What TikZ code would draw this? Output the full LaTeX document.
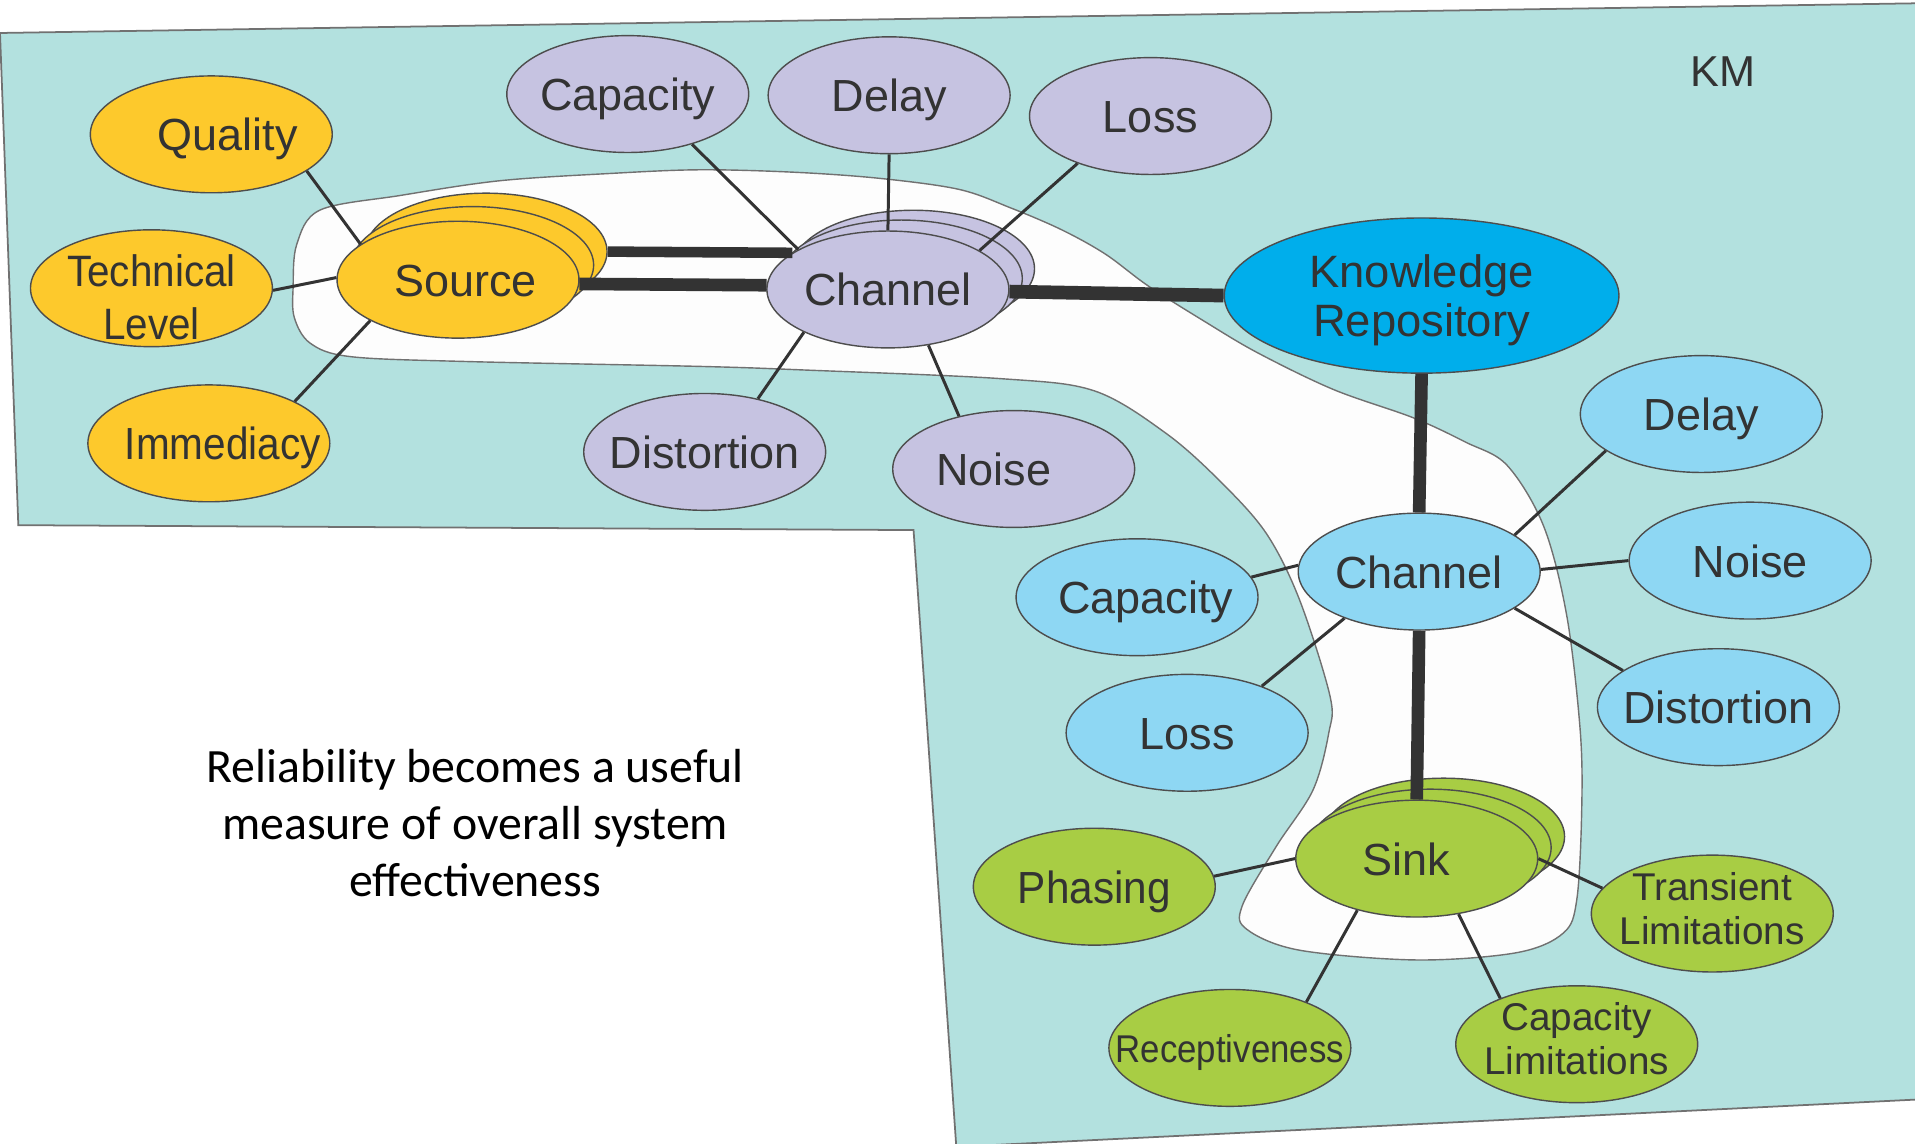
\documentclass[tikz,border=0pt]{standalone}
\usepackage{fontspec}
\usepackage{graphicx}
\setmainfont{Liberation Sans}
\newfontfamily\notefont{Carlito}
\usetikzlibrary{shapes.geometric}

\definecolor{kmteal}{HTML}{B3E1DF}
\definecolor{zonewhite}{HTML}{FDFDFD}
\definecolor{srcyellow}{HTML}{FDC92C}
\definecolor{chpurple}{HTML}{C6C3E1}
\definecolor{krblue}{HTML}{00AEEB}
\definecolor{skyblue}{HTML}{8ED7F3}
\definecolor{sinkgreen}{HTML}{A8CD44}
\definecolor{ink}{HTML}{333333}
\definecolor{rim}{HTML}{4D4D4D}

% one-line label whose vertical placement ignores descenders
\newcommand\lbl[1]{\rule{0pt}{0.73em}\smash{#1}}

\tikzset{
  bub/.style={ellipse, draw=rim, line width=0.4pt, inner xsep=-0.6cm, inner ysep=-0.25cm,
    minimum width=2.418cm, minimum height=1.168cm, text=ink, align=center,
    font=\fontsize{12.8}{14.5}\selectfont},
  small bub/.style={bub, font=\fontsize{11}{12.6}\selectfont},
  link/.style={draw=ink, line width=0.85pt},
  heavy/.style={draw=ink, line width=3.6pt}
}

\begin{document}
\begin{tikzpicture}[x=0.012213cm, y=-0.012213cm]
\useasboundingbox (0,0) rectangle (1568,936);
\clip (0,0) rectangle (1568,936);
\fill[white] (0,0) rectangle (1568,936);

% KM area
\filldraw[fill=kmteal, draw=rim!80, line width=0.5pt]
  (0,27) -- (1575,2.6) -- (1575,900) -- (783,939) -- (748,434) -- (15,430) -- cycle;

% source-channel-sink band
\filldraw[fill=zonewhite, draw=rim!80, line width=0.4pt]
  plot[smooth cycle, tension=0.55] coordinates {
    (240,235) (243,200) (262,172) (328,160) (409,148) (500,142) (573,139)
    (650,141) (720,146) (785,155) (827,170) (869,188) (905,208) (940,234)
    (986,263) (1030,289) (1092,319) (1157,342) (1200,362) (1234,381)
    (1264,431) (1283,505) (1294,600) (1295,667) (1291,737) (1280,764)
    (1242,780) (1160,786) (1064,778) (1021,761) (1017,742) (1045,693)
    (1075,647) (1088,600) (1089,570) (1064,491) (1037,437) (1000,395)
    (955,355) (896,320) (819,310) (660,303) (573,300) (382,296) (287,292)
    (254,281) (241,260)};

% source group
\node[bub, fill=srcyellow] (qual) at (173,110) {\lbl{\hspace*{0.33cm}Quality}};
\node[bub, fill=srcyellow, font=\fontsize{12.5}{15.3}\selectfont] (tech) at (124,236)
  {\rule{0pt}{0.5cm}\scalebox{0.92}[1]{Technical}\\\scalebox{0.92}[1]{Level}};
\node[bub, fill=srcyellow] (imm) at (171,363) {\lbl{\hspace*{0.28cm}\scalebox{0.9}[1]{Immediacy}}};
\node[bub, fill=srcyellow] (src3) at (398,206) {};
\node[bub, fill=srcyellow] (src2) at (387,217) {};
\node[bub, fill=srcyellow] (src) at (375,229) {\lbl{\hspace*{0.15cm}Source}};

% channel group (first leg)
\node[bub, fill=chpurple] (capP) at (514,77) {\lbl{Capacity}};
\node[bub, fill=chpurple] (dlyP) at (728,78) {\lbl{Delay}};
\node[bub, fill=chpurple] (lossP) at (942,95) {\lbl{Loss}};
\node[bub, fill=chpurple] (chP3) at (748,220) {};
\node[bub, fill=chpurple] (chP2) at (738,228) {};
\node[bub, fill=chpurple] (chP) at (727,237) {\lbl{Channel}};
\node[bub, fill=chpurple] (distP) at (577,370) {\lbl{Distortion}};
\node[bub, fill=chpurple] (noiseP) at (830,384) {\lbl{Noise\hspace*{0.4cm}}};

% repository
\node[bub, fill=krblue, minimum width=3.945cm, minimum height=1.551cm,
  font=\fontsize{12.9}{14.1}\selectfont] (kr) at (1164,242)
  {\rule{0pt}{0.42cm}Knowledge\\Repository};

% channel group (second leg)
\node[bub, fill=skyblue] (dlyB) at (1393,339) {\lbl{Delay}};
\node[bub, fill=skyblue] (chB) at (1162,468) {\lbl{Channel}};
\node[bub, fill=skyblue] (noiseB) at (1433,459) {\lbl{Noise}};
\node[bub, fill=skyblue] (capB) at (931,489) {\lbl{\hspace*{0.17cm}Capacity}};
\node[bub, fill=skyblue] (distB) at (1407,579) {\lbl{Distortion}};
\node[bub, fill=skyblue] (lossB) at (972,600) {\lbl{Loss}};

% sink group
\node[bub, fill=sinkgreen] (sink3) at (1182,685) {};
\node[bub, fill=sinkgreen] (sink2) at (1171,694) {};
\node[bub, fill=sinkgreen] (sink) at (1160,703) {\lbl{Sink\hspace*{0.21cm}}};
\node[bub, fill=sinkgreen] (phas) at (896,726) {\lbl{\scalebox{0.94}[1]{Phasing}}};
\node[small bub, fill=sinkgreen, font=\fontsize{11}{12.5}\selectfont] (trans) at (1402,748)
  {Transient\\Limitations\rule[-0.1cm]{0pt}{0pt}};
\node[small bub, fill=sinkgreen] (recep) at (1007,858) {\lbl{\scalebox{0.9}[1]{Receptiveness}}};
\node[small bub, fill=sinkgreen] (caplim) at (1291,855)
  {Capacity\\Limitations\rule[-0.11cm]{0pt}{0pt}};

% labels
\node[text=ink, font=\fontsize{12.3}{14}\selectfont] (km) at (1411,59) {KM};
\node[text=black, align=center, font=\notefont\fontsize{13.6}{16.3}\selectfont] (note)
  at (389,674) {Reliability becomes a useful\\measure of overall system\\effectiveness};

% connectors
\draw[link] (qual.-21) -- (src.160);
\draw[link] (tech.-1) -- (src.179);
\draw[link] (imm.26) -- (src.-155);
\draw[link] (capP.-38) -- (chP.156);
\draw[link] (dlyP.-90) -- (chP.90);
\draw[link] (lossP.-147) -- (chP.23);
\draw[link] (distP.45) -- (chP.-153);
\draw[link] (noiseP.136) -- (chP.-54);
\draw[heavy, line width=3pt] (src3.0) -- (chP.159);
\draw[heavy] (src.-2) -- (chP.178);
\draw[heavy, line width=3.9pt] (chP.-1) -- (kr.180);
\draw[heavy] (kr.-90) -- (chB.90);
\draw[link] (chB.21) -- (dlyB.-159);
\draw[link] (chB.1) -- (noiseB.180);
\draw[link] (chB.-21) -- (distB.159);
\draw[link] (capB.10) -- (chB.177);
\draw[link] (lossB.32) -- (chB.-148);
\draw[heavy] (chB.-90) -- (sink.90);
\draw[link] (phas.5) -- (sink.180);
\draw[link] (sink.0) -- (trans.167);
\draw[link] (sink.-139) -- (recep.31);
\draw[link] (sink.-53) -- (caplim.149);
\end{tikzpicture}
\end{document}
